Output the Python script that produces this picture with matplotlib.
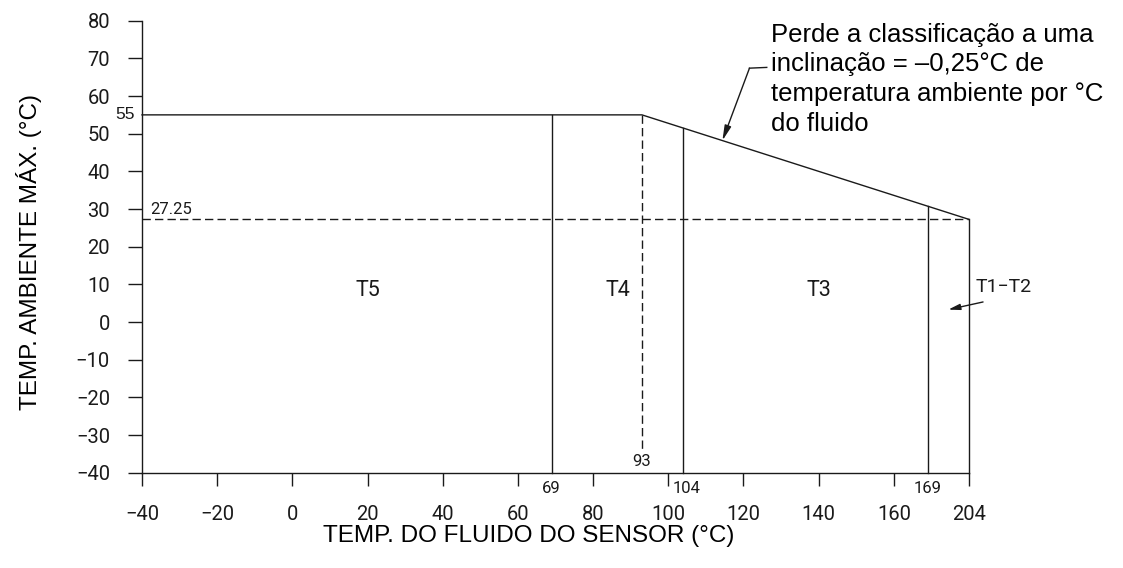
import numpy as np
import matplotlib
matplotlib.use("Agg")
import matplotlib.pyplot as plt

# ticks
x_ticks = [-40, -20, 0, 20, 40, 60, 80, 100, 120, 140, 160, 204]
x_tick_labels = ["\u221240", "\u221220", "0", "20", "40", "60", "80", "100", "120", "140", "160", "204"]
y_ticks = [-40, -30, -20, -10, 0, 10, 20, 30, 40, 50, 60, 70, 80]
y_tick_labels = ["\u221240", "\u221230", "\u221220", "\u221210", "0", "10", "20", "30", "40", "50", "60", "70", "80"]

# max ambient temperature vs fluid temperature
curve_x = [-40, 93, 204]
curve_y = [55, 55, 27.25]

# temperature class limits (fluid temp)
class_limits = [69, 104, 169, 204]
class_limit_labels = ["69", "104", "169"]
t4_limit = 93
t4_limit_bottom = -34.5
derate_level = 27.25

zone_names = ["T5", "T4", "T3"]
zone_x = [20, 86.5, 140]
zone_y = 8.5

cad_font = dict(family="Roboto", fontweight="normal")
helv = dict(family=["Liberation Sans", "DejaVu Sans"])
ink = "#1a1a1a"

# compressed x axis above 169 (204 sits where 180 would be)
BREAK = 169.0
K = (180.0 - BREAK) / (204.0 - BREAK)


def fwd(x):
    x = np.asarray(x, dtype=float)
    return np.where(x <= BREAK, x, BREAK + (x - BREAK) * K)


def inv(x):
    x = np.asarray(x, dtype=float)
    return np.where(x <= BREAK, x, BREAK + (x - BREAK) / K)


fig = plt.figure(figsize=(11.23, 5.68), dpi=100)
ax = fig.add_axes([142 / 1123, 1 - 472.7 / 568, (969 - 142) / 1123, (472.7 - 20.7) / 568])
ax.set_xscale("function", functions=(fwd, inv))
ax.set_xlim(-40, 204)
ax.set_ylim(-40, 80)

lw = 1.0
# top curve
ax.plot(curve_x, curve_y, color=ink, lw=lw, clip_on=False)

# class limit lines, up to the curve (curve is straight on screen)
tops = np.interp(fwd(class_limits), fwd(curve_x), curve_y)
for x, top in zip(class_limits, tops):
    ax.plot([x, x], [-40, top], color=ink, lw=lw, clip_on=False)

# dashed lines
ax.plot([t4_limit, t4_limit], [55, t4_limit_bottom], color=ink, lw=lw, ls=(0, (6, 3)))
ax.plot([-40, 204], [derate_level, derate_level], color=ink, lw=lw, ls=(0, (6, 3)))

# zone names
for name, x in zip(zone_names, zone_x):
    ax.text(x, zone_y, name, ha="center", va="center", fontsize=15.5, color=ink, **cad_font)

# small value labels
ax.annotate("55", xy=(-40, 55), xytext=(-5, 0), textcoords="offset points",
            ha="right", va="center", fontsize=12.5, color=ink, **helv)
ax.annotate("27.25", xy=(-40, derate_level), xytext=(6, 1.5), textcoords="offset points",
            ha="left", va="bottom", fontsize=12, color=ink, **cad_font)
ax.annotate(str(t4_limit), xy=(t4_limit, -40), xytext=(0, 2.5), textcoords="offset points",
            ha="center", va="bottom", fontsize=12, color=ink, **cad_font)
for x, lab, dx in zip(class_limits[:3], class_limit_labels, [0, 2.5, 0]):
    ax.annotate(lab, xy=(x, -40), xytext=(dx, -6), textcoords="offset points",
                ha="center", va="top", fontsize=12, color=ink, **cad_font)

# T1-T2 callout
ax.annotate("", xy=(186.5, 3.3), xytext=(25, 5.5), textcoords="offset points",
            arrowprops=dict(arrowstyle="-|>,head_length=0.7,head_width=0.18", color=ink, lw=1,
                            shrinkA=0, shrinkB=0))
ax.annotate("T1\u2212T2", xy=(186.5, 3.3), xytext=(19.5, 16), textcoords="offset points",
            ha="left", va="center", fontsize=14, color=ink, annotation_clip=False, **cad_font)

# slope note
tip_x = 114.4
tip_y = float(np.interp(fwd(tip_x), fwd(curve_x), curve_y))
ax.annotate("", xy=(tip_x, tip_y), xytext=(121.6, 67.4),
            arrowprops=dict(arrowstyle="-|>,head_length=0.9,head_width=0.2", color=ink, lw=1,
                            shrinkA=0, shrinkB=0), annotation_clip=False)
ax.plot([121.6, 126.2], [67.4, 67.6], color=ink, lw=lw, clip_on=False)
ax.text(127.4, 79.5,
        "Perde a classificação a uma\ninclinação = \u20130,25°C de\ntemperatura ambiente por °C\ndo fluido",
        ha="left", va="top", fontsize=18.5, linespacing=1.3, color="black", clip_on=False, **helv)

# axes styling
for s in ["top", "right"]:
    ax.spines[s].set_visible(False)
for s in ["left", "bottom"]:
    ax.spines[s].set_color(ink)
    ax.spines[s].set_linewidth(lw)

ax.set_xticks(x_ticks)
ax.set_xticklabels(x_tick_labels)
ax.set_yticks(y_ticks)
ax.set_yticklabels(y_tick_labels)
ax.minorticks_off()
ax.tick_params(axis="x", direction="out", length=9.5, width=lw, color=ink, pad=14, labelsize=14.5, labelcolor=ink)
ax.tick_params(axis="y", direction="out", length=10, width=lw, color=ink, pad=13, labelsize=14.5, labelcolor=ink)
for lab in ax.get_xticklabels() + ax.get_yticklabels():
    lab.set_family("Roboto")
    lab.set_fontweight("normal")

ax.set_xlabel("TEMP. DO FLUIDO DO SENSOR (°C)", fontsize=17.5, color="black", **helv)
ax.set_ylabel("TEMP. AMBIENTE MÁX. (°C)", fontsize=17.5, color="black", **helv)
ax.xaxis.set_label_coords(0.468, -(525 - 472.7) / (472.7 - 20.7))
ax.yaxis.set_label_coords(-(142 - 42) / (969 - 142), 0.488)

fig.savefig("out.png", dpi=100)
